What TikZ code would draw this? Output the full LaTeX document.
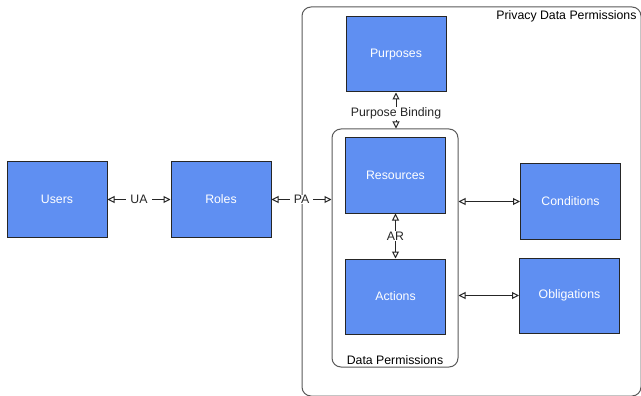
\documentclass[tikz,border=0pt]{standalone}
\usepackage{fontspec}
\setmainfont{Liberation Sans}
\usetikzlibrary{arrows.meta,positioning}
\definecolor{boxblue}{HTML}{5F8FF2}

\begin{document}
\begin{tikzpicture}[x=1pt, y=-1pt, line width=1pt,
  every node/.style={font=\fontsize{12.3}{14}\selectfont},
  entity/.style={draw=black!85, fill=boxblue, text=white, minimum width=100pt, minimum height=75pt, inner sep=0pt},
  group/.style={draw=black!65, rounded corners=9pt, inner sep=0pt},
  rel/.style={{Triangle[open,length=7pt,width=7pt]}-{Triangle[open,length=7pt,width=7pt]}, black!85},
  tag/.style={fill=white, inner xsep=4pt, inner ysep=0.5pt}]
\useasboundingbox (0,0) rectangle (641,396);

% ---- containers ------------------------------------------------------------
\node[group, minimum width=339pt, minimum height=389pt] (privacy) at (471.5,201.5) {};
\node[anchor=north east, inner sep=2pt] (privacylbl) at (639,8) {Privacy Data Permissions};
\node[group, minimum width=126pt, minimum height=238pt] (dataperm) at (395,248) {};
\node[anchor=south, inner sep=2pt] (dataplbl) at (dataperm.south) {Data Permissions};

% ---- entities --------------------------------------------------------------
\node[entity] (users)       at (57,199.5)    {Users};
\node[entity] (roles)       at (221,199.5)   {Roles};
\node[entity] (purposes)    at (396,54.5)    {Purposes};
\node[entity] (resources)   at (395.5,175.5) {Resources};
\node[entity] (actions)     at (395.5,296.5) {Actions};
\node[entity] (conditions)  at (570.5,201.5) {Conditions};
\node[entity] (obligations) at (569.5,295.5) {Obligations};

% ---- relations -------------------------------------------------------------
\draw[rel] (users.east) -- node[tag] {UA} (roles.west);
\draw[rel] (roles.east) -- node[tag, pos=0.5] {PA} (roles.east -| dataperm.west);
\draw[rel] (purposes.south) -- node[tag, inner xsep=1pt, pos=0.58] {Purpose Binding} (purposes.south |- dataperm.north);
\draw[rel] (resources.south) -- node[tag] {AR} (actions.north);
\draw[rel] (dataperm.east |- conditions.west) -- (conditions.west);
\draw[rel] (dataperm.east |- obligations.west) -- (obligations.west);

\end{tikzpicture}
\end{document}
